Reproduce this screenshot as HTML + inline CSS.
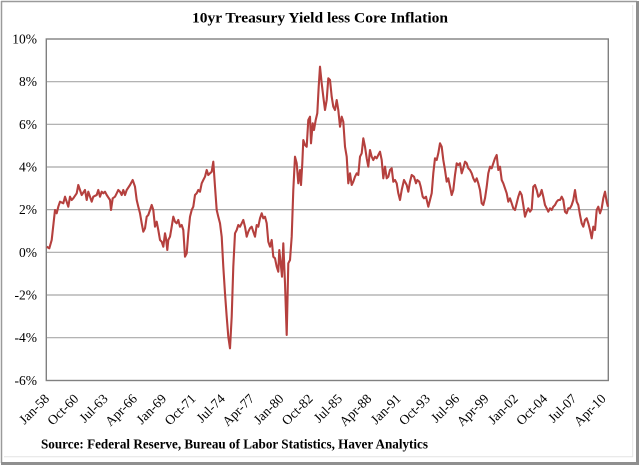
<!DOCTYPE html>
<html>
<head>
<meta charset="utf-8">
<style>
html,body{margin:0;padding:0;background:#fff;}
svg{display:block;}
text{font-family:"Liberation Serif","Times New Roman",serif;fill:#000;}
</style>
</head>
<body>
<svg width="640" height="465" viewBox="0 0 640 465" xmlns="http://www.w3.org/2000/svg">
<rect x="0" y="0" width="640" height="465" fill="#fff"/>
<!-- outer frame -->
<line x1="1" y1="1.5" x2="637" y2="1.5" stroke="#9a9a9a" stroke-width="1.5"/>
<line x1="1.5" y1="1" x2="1.5" y2="463" stroke="#9a9a9a" stroke-width="1.5"/>
<rect x="636" y="1" width="3" height="464" fill="#8f8f8f"/>
<rect x="1" y="462" width="638" height="3" fill="#8f8f8f"/>
<line x1="4" y1="456.7" x2="633" y2="456.7" stroke="#e4e4e4" stroke-width="1"/>
<line x1="632.7" y1="5" x2="632.7" y2="457" stroke="#e4e4e4" stroke-width="1"/>

<!-- title -->
<text x="192" y="22.5" font-size="15" font-weight="bold" textLength="256" lengthAdjust="spacingAndGlyphs">10yr Treasury Yield less Core Inflation</text>

<!-- gridlines -->
<g stroke="#a8a8a8" stroke-width="1.2">
<line x1="46" y1="81.7" x2="608" y2="81.7"/>
<line x1="46" y1="124.3" x2="608" y2="124.3"/>
<line x1="46" y1="167" x2="608" y2="167"/>
<line x1="46" y1="209.6" x2="608" y2="209.6"/>
<line x1="46" y1="252.3" x2="608" y2="252.3"/>
<line x1="46" y1="295" x2="608" y2="295"/>
<line x1="46" y1="337.7" x2="608" y2="337.7"/>
</g>
<!-- plot border -->
<rect x="46.3" y="39" width="562" height="341.5" fill="none" stroke="#808080" stroke-width="1.4"/>

<!-- y labels -->
<g font-size="13.5" text-anchor="end">
<text x="37" y="43.5">10%</text>
<text x="37" y="86.2">8%</text>
<text x="37" y="128.8">6%</text>
<text x="37" y="171.5">4%</text>
<text x="37" y="214.1">2%</text>
<text x="37" y="256.8">0%</text>
<text x="37" y="299.5">-2%</text>
<text x="37" y="342.2">-4%</text>
<text x="37" y="384.9">-6%</text>
</g>

<!-- x labels -->
<g font-size="13.5" text-anchor="end">
<text transform="translate(50,399.5) rotate(-45)">Jan-58</text>
<text transform="translate(79.3,399.5) rotate(-45)">Oct-60</text>
<text transform="translate(108.6,399.5) rotate(-45)">Jul-63</text>
<text transform="translate(137.9,399.5) rotate(-45)">Apr-66</text>
<text transform="translate(167.2,399.5) rotate(-45)">Jan-69</text>
<text transform="translate(196.5,399.5) rotate(-45)">Oct-71</text>
<text transform="translate(225.8,399.5) rotate(-45)">Jul-74</text>
<text transform="translate(255.1,399.5) rotate(-45)">Apr-77</text>
<text transform="translate(284.4,399.5) rotate(-45)">Jan-80</text>
<text transform="translate(313.7,399.5) rotate(-45)">Oct-82</text>
<text transform="translate(343,399.5) rotate(-45)">Jul-85</text>
<text transform="translate(372.3,399.5) rotate(-45)">Apr-88</text>
<text transform="translate(401.6,399.5) rotate(-45)">Jan-91</text>
<text transform="translate(430.9,399.5) rotate(-45)">Oct-93</text>
<text transform="translate(460.2,399.5) rotate(-45)">Jul-96</text>
<text transform="translate(489.5,399.5) rotate(-45)">Apr-99</text>
<text transform="translate(518.8,399.5) rotate(-45)">Jan-02</text>
<text transform="translate(548.1,399.5) rotate(-45)">Oct-04</text>
<text transform="translate(577.4,399.5) rotate(-45)">Jul-07</text>
<text transform="translate(606.7,399.5) rotate(-45)">Apr-10</text>
</g>

<!-- series -->
<polyline fill="none" stroke="#b5403e" stroke-width="2.1" stroke-linejoin="round" points="
46.7,246.7 49.3,248.3 51.7,240 55,210 56.7,213.3 58.3,206.7 60,201.7 63.3,203.3 65,196.7 68.3,206.7 70,196.7 71.7,200 73.3,198.3 76.7,193.3 78.3,185 80,190 81.7,195 85,190 86.7,200 88.3,191.7 90,196.7 91.7,201.7 93.3,196.7 96.7,195 98.3,190 100,196.7 101.7,191.7 103.3,193.3 105,191.7 106.7,195 110,200 111,210 112.7,198.3 115,196.7 116.7,193.3 118.3,190 120,191.7 121.7,195 123.3,190 125,195 126.7,190 130,185 132.7,180 135,186.7 136.7,200 138.3,206.7 140,213.3 141.7,223.3 143.3,231.7 145,228.3 146.7,216.7 148.3,215 150,210 151.7,205 153.3,210 155,226.7 156.7,221.7 158.3,230 160,240 161.7,241.7 163.3,246.7 165,233.3 166,238.3 167.3,250 168.3,240 170,236.7 171.7,226.7 173.3,216.7 175,221.7 176.7,223.3 178.3,220 180,226.7 181.7,225 183.3,230 185,256.7 186.7,253.3 188.3,233.3 190,216.7 191.7,210 193.3,206.7 195,195 196.7,193.3 198.3,190 200,191.7 201.7,183.3 203.3,180 205,176.7 206.7,170 208.3,175 210,173.3 211.7,171.7 213.3,161.7 215,186.7 216.7,210 218.3,216.7 220,223.3 221.7,236.7 223.3,266.7 225,293.3 226.7,316.7 228.3,336.7 230,348.3
231.7,316.7 233.3,266.7 235,233.3 236.7,230 238.3,225 240,226.7 241.7,223.3 243.3,220 245,226.7 246.7,236.7 248.3,231.7 250,228.3 251.7,226.7 253.3,231.7 255,236.7 256.7,225 258.3,226.7 260,218.3 261.7,213.3 263.3,218.3 265,216.7 266.7,223.3 268.3,241.7 270,246.7 271.7,240 273.3,256.7 275,258.3 276.7,266.7 278.3,271.7 279.3,250 280.7,263.3 282,276.7 283.3,243.3 285,283.3 286.7,335 288.3,263.3 290,260 291.7,236.7 293.3,190 295,156.7 296.7,163.3 298.3,183.3 300,170 301,185 302.3,163.3 303.3,140 305,145 306.7,146.7 308.3,120 310,116.7 311,143.3 312.7,123.3 314,130 315.7,120 317.3,113.3 318.7,86.7 320,66.7 321.7,83.3 323.3,96.7 325,110 326.7,100 328.3,78.3 330,80 331.7,96.7 333.3,106.7 335,110 336.7,100 338.3,110 340,126.7 341.7,116.7 343.3,121.7 345,146.7 346.7,156.7 348.3,183.3 350,173.3 351.7,185 353.3,181.7 355,176.7 356.7,173.3 358.3,175 360,156.7 361.7,153.3 363.3,138.3 365,146.7 366.7,158.3 368.3,166.7 370,150 371.7,156.7 373.3,160 375,156.7 376.7,158.3 378.3,155 380,151.7 381.7,160 383.3,178.3 385,166.7 386.7,178.3 388.3,176.7 390,170 391.7,168.3 393.3,181.7 395,180 396.7,183.3 398.3,193.3
400,200 401.7,190 404,180 406.7,185 408.3,191.7 410,181.7 411.7,175 414,176.7 416,183.3 417.3,180 419.3,181.7 420.7,186.7 422.7,196.7 424,198.3 426,196.7 428.3,206.7 430,200 431.7,193.3 433.3,173.3 435,158.3 436.7,160 438.3,153.3 440,143.3 441.7,146.7 443.3,160 445,170 446.7,181.7 448.3,178.3 450,186.7 451.7,195 453.3,190 455,175 456.7,163.3 458.3,165 460,163.3 461.7,173.3 463.3,168.3 465,161.7 466.7,163.3 468.3,168.3 470,170 471.7,173.3 473.3,178.3 475,181.7 476.7,178.3 478.3,183.3 480,190 481.7,203.3 483.3,205 485,198.3 486.7,186.7 488.3,173.3 490,166.7 491.7,168.3 493.3,163.3 495,158.3 496.7,155 498.3,170 500,166.7 501.7,180 503.3,183.3 505,188.3 506.7,193.3 508.3,201.7 510,198.3 511.7,203.3 513.3,208.3 515,210 516.7,203.3 518.3,196.7 520,191.7 521.7,195 523.3,205 525,216.7 526.7,211.7 528.3,208.3 530,211.7 531.7,209.3 533.3,186.7 535,185 536.7,190 538.3,196.7 540,195 541.7,190 543.3,196.7 545,205 546.7,208.3 548.3,211.7 550,208.3 551.7,210 553.3,206.7 555,205 556.7,201.7 558.3,200 560,200 561.7,196.7 563.3,200 565,211.7 566.7,213.3 568.3,208.3 570,208.3 571.7,205 573.3,200 575,190 576.7,201.7 578.3,205 580,215 581.7,223.3 583.3,226.7 585,220 586.7,218.3 588.3,223.3 590,230 591.7,238.3 593.3,226.7 595,230 596.7,210 598.3,206.7 600,213.3 601.7,208.3 603.3,198.3 605,191.7 606.7,201.7 608,206.7"/>

<!-- source -->
<text x="41" y="448.3" font-size="13.5" font-weight="bold" textLength="387" lengthAdjust="spacingAndGlyphs">Source:  Federal Reserve, Bureau of Labor Statistics, Haver Analytics</text>
</svg>
</body>
</html>
